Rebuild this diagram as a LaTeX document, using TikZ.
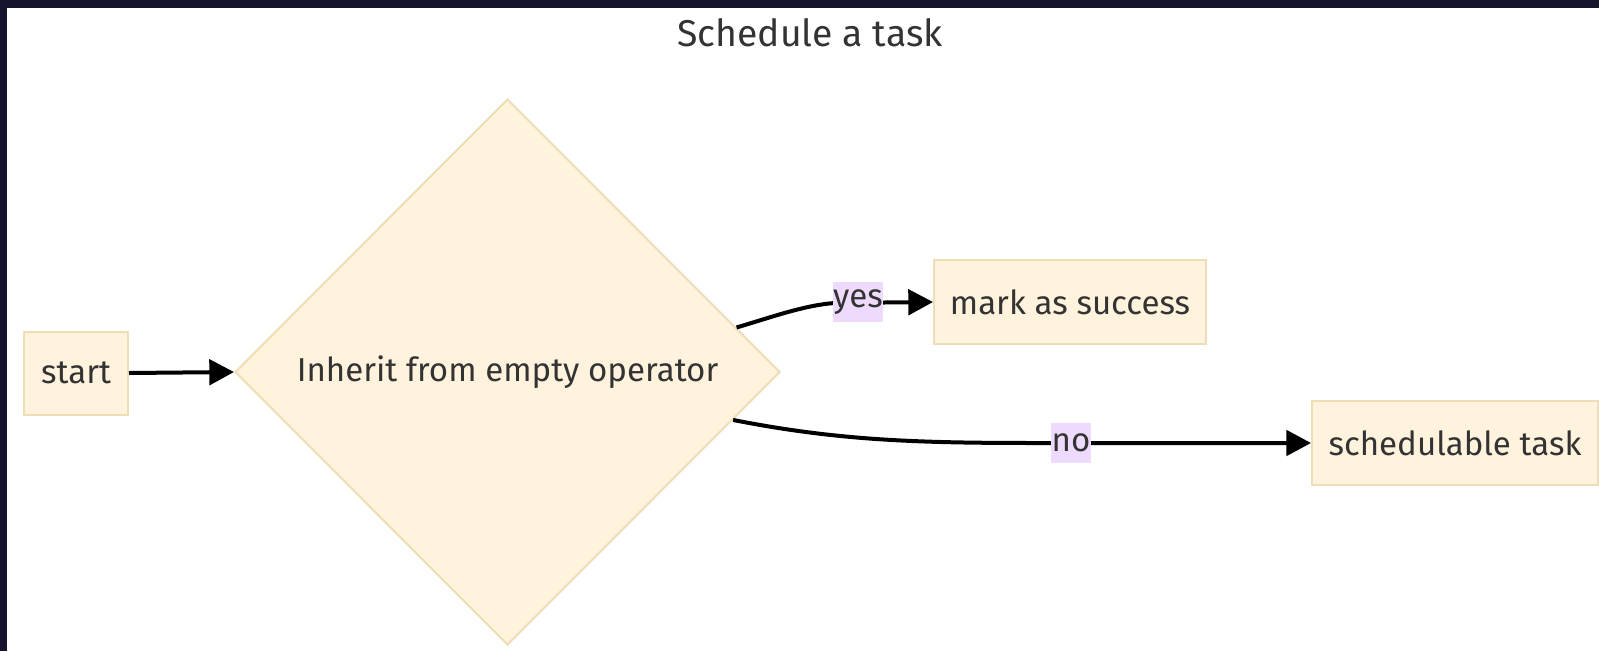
\documentclass[tikz,border=0pt]{standalone}
\usepackage{fontspec}
\setmainfont{Fira Sans}
\usetikzlibrary{shapes.geometric,arrows.meta}
\definecolor{frame}{HTML}{16132F}
\definecolor{nodefill}{HTML}{FFF3DD}
\definecolor{nodeline}{HTML}{EEDDB6}
\definecolor{lblfill}{HTML}{EDDAFC}
\definecolor{ink}{HTML}{333333}
\tikzset{
  txt/.style={text=ink, font=\fontsize{24.8}{28}\selectfont},
  box/.style={rectangle, draw=nodeline, line width=1.5pt, fill=nodefill,
    txt, inner sep=0pt},
  decision/.style={diamond, draw=nodeline, line width=1.5pt, fill=nodefill,
    txt, inner sep=0pt, aspect=1},
  flow/.style={draw=black, line width=3pt,
    -{Triangle[length=18.5pt,width=19pt]}},
  lbl/.style={fill=lblfill, txt, inner sep=0.5pt, minimum height=30pt},
}
\begin{document}
\begin{tikzpicture}[x=0.75pt, y=-0.75pt]
  % canvas and window frame
  \useasboundingbox (0,0) rectangle (1599,651);
  \fill[white] (0,0) rectangle (1599,651);
  \fill[frame] (0,0) rectangle (1599,8);
  \fill[frame] (0,0) rectangle (7,651);

  % title
  \node[text=ink, font=\fontsize{28}{32}\selectfont] (title) at (810,33) {Schedule a task};

  % nodes
  \node[box, minimum width=78pt, minimum height=62.25pt] (start) at (76,373) {start};
  \node[decision, minimum width=408.75pt, minimum height=409.5pt] (dm) at (507.5,372) {Inherit from empty operator};
  \node[box, minimum width=204pt, minimum height=63pt] (mk) at (1070,302) {mark as success};
  \node[box, minimum width=214.5pt, minimum height=63pt] (sc) at (1455,443) {schedulable task};

  % connectors
  \draw[flow] (start.east) -- (dm.west);
  \draw[flow] (dm.11) .. controls (772,317) and (805,305) .. (835,303) -- (mk.west);
  \draw[flow] (dm.-12) .. controls (840,441) and (920,443) .. (1040,443) -- (sc.west);

  % edge labels
  \node[lbl] (yes) at (858,302) {yes};
  \node[lbl] (no) at (1071,443) {no};
\end{tikzpicture}
\end{document}
